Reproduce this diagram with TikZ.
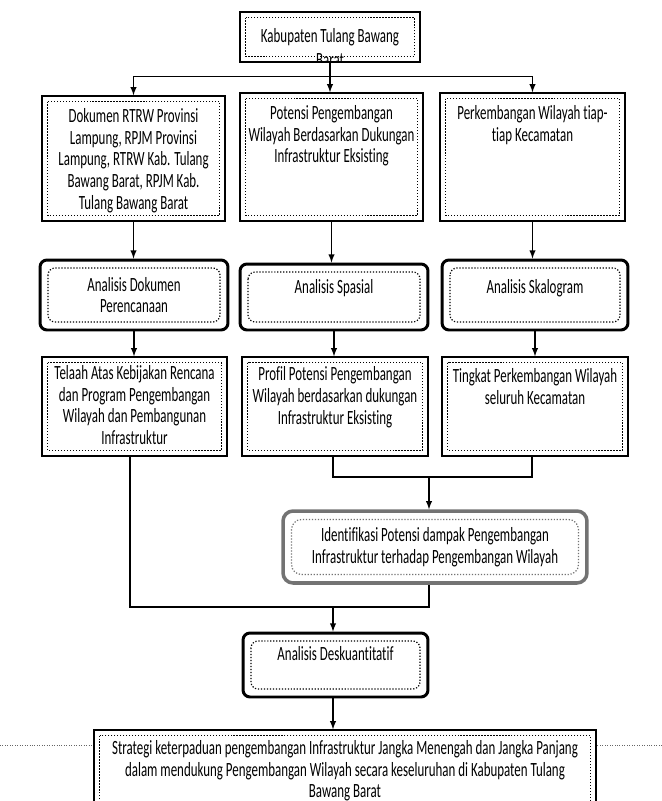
\documentclass[tikz,border=0pt]{standalone}
\usepackage{fontspec}
\setmainfont{Carlito}[FakeStretch=0.64, Ligatures=NoCommon]

% text block that hangs from the top of a box
\newcommand{\toptext}[3]{\parbox[c][#2][t]{#1}{\centering #3}}

\begin{document}
\begin{tikzpicture}[x=0.02cm, y=-0.02cm,
    font=\fontsize{11.5}{12.5}\selectfont,
    inner sep=0pt,
    dotin/.style={path picture={\draw[densely dotted, line width=0.7pt]
        ([xshift=#1,yshift=-#1]path picture bounding box.north west) rectangle
        ([xshift=-#1,yshift=#1]path picture bounding box.south east);}},
    plainbox/.style={draw, fill=white, line width=0.8pt, dotin=0.11cm},
    thickbox/.style={draw, fill=white, line width=1.7pt, rounded corners=0.14cm, dotin=0.16cm},
    greybox/.style={draw=black!55, fill=white, line width=2pt, rounded corners=0.2cm,
        dotin=0.17cm, align=center},
    link/.style={line width=0.6pt},
    arr/.style={line width=0.6pt, -latex}]

    \useasboundingbox (0,0) rectangle (662,801);

    % top
    \node[plainbox, minimum width=3.6cm, minimum height=1.0cm,
        path picture={
            \draw[densely dotted, line width=0.7pt] ([xshift=0.11cm,yshift=-0.11cm]path picture bounding box.north west)
                rectangle ([xshift=-0.11cm,yshift=0.11cm]path picture bounding box.south east);
            \node[anchor=north] at ([yshift=-0.2cm]path picture bounding box.north)
            {\parbox{3.4cm}{\centering Kabupaten Tulang Bawang\\[1pt] Barat}};}] (kab) at (330,37) {};

    % row 1
    \node[plainbox, minimum width=3.66cm, minimum height=2.5cm] (dok) at (133.5,158.5)
        {\toptext{3.4cm}{2.02cm}{Dokumen RTRW Provinsi\\Lampung, RPJM Provinsi\\Lampung, RTRW Kab. Tulang\\Bawang Barat, RPJM Kab.\\Tulang Bawang Barat}};
    \node[plainbox, minimum width=3.66cm, minimum height=2.56cm] (pot) at (331.5,157)
        {\toptext{3.5cm}{2.08cm}{Potensi Pengembangan\\Wilayah Berdasarkan Dukungan\\Infrastruktur Eksisting}};
    \node[plainbox, minimum width=3.7cm, minimum height=2.56cm] (kec) at (532.5,157)
        {\toptext{3.44cm}{2.08cm}{Perkembangan Wilayah tiap-\\tiap Kecamatan}};

    % row 2
    \node[thickbox, minimum width=3.76cm, minimum height=1.4cm] (adok) at (134,295)
        {\toptext{3.36cm}{0.72cm}{Analisis Dokumen\\Perencanaan}};
    \node[thickbox, minimum width=3.76cm, minimum height=1.32cm] (aspa) at (334,297)
        {\toptext{3.36cm}{0.72cm}{Analisis Spasial}};
    \node[thickbox, minimum width=3.72cm, minimum height=1.4cm] (askal) at (535,295)
        {\toptext{3.32cm}{0.64cm}{Analisis Skalogram}};

    % row 3
    \node[plainbox, minimum width=3.7cm, minimum height=1.98cm] (tel) at (134.5,406.5)
        {\toptext{3.56cm}{1.66cm}{Telaah Atas Kebijakan Rencana\\dan Program Pengembangan\\Wilayah dan Pembangunan\\Infrastruktur}};
    \node[plainbox, minimum width=3.72cm, minimum height=1.98cm] (prof) at (335,406.5)
        {\toptext{3.58cm}{1.6cm}{Profil Potensi Pengembangan\\Wilayah berdasarkan dukungan\\Infrastruktur Eksisting}};
    \node[plainbox, minimum width=3.72cm, minimum height=1.98cm] (tk) at (535,406.5)
        {\toptext{3.58cm}{1.54cm}{Tingkat Perkembangan Wilayah\\seluruh Kecamatan}};

    \node[greybox, minimum width=6.08cm, minimum height=1.44cm] (ident) at (435,547)
        {Identifikasi Potensi dampak Pengembangan\\Infrastruktur terhadap Pengembangan Wilayah};

    \node[thickbox, minimum width=3.7cm, minimum height=1.28cm] (desk) at (335.5,665)
        {\toptext{3.3cm}{0.76cm}{Analisis Deskuantitatif}};

    \node[plainbox, minimum width=10.04cm, minimum height=1.7cm] (strat) at (345,772.5)
        {\toptext{9.8cm}{1.3cm}{Strategi keterpaduan pengembangan Infrastruktur Jangka Menengah dan Jangka Panjang\\dalam mendukung Pengembangan Wilayah secara keseluruhan di Kabupaten Tulang\\Bawang Barat}};

    % margin marks beside the last box
    \coordinate (mleft) at (0,745);
    \coordinate (mright) at (662,745);
    \draw[densely dotted, black!60] (mleft) -- (mleft -| strat.west);
    \draw[densely dotted, black!60] (mright) -- (mright -| strat.east);

    % connectors
    \draw[arr] (kab.south) -- ++(0,14) -| (dok.north);
    \draw[arr] (kab.south) -- ++(0,14) -| (kec.north);
    \draw[arr] (kab.south) -- (kab.south |- pot.north);

    \draw[arr] (dok.south) -- (dok.south |- adok.north);
    \draw[arr] (pot.south) -- (pot.south |- aspa.north);
    \draw[arr] (kec.south) -- (kec.south |- askal.north);

    \draw[arr] (adok.south) -- (adok.south |- tel.north);
    \draw[arr] (aspa.south) -- (aspa.south |- prof.north);
    \draw[arr] (askal.south) -- (askal.south |- tk.north);

    \coordinate (jmid) at (429,477);
    \draw[link] ([xshift=-0.04cm]prof.south) |- (jmid) -| ([xshift=-0.06cm]tk.south);
    \draw[arr] (jmid) -- (jmid |- ident.north);

    \coordinate (jlow) at (333,607);
    \draw[link] ([xshift=-0.09cm]tel.south) |- (jlow) -| (jmid |- ident.south);
    \draw[arr] (jlow) -- (jlow |- desk.north);

    \draw[arr] (jlow |- desk.south) -- (jlow |- strat.north);
\end{tikzpicture}
\end{document}
